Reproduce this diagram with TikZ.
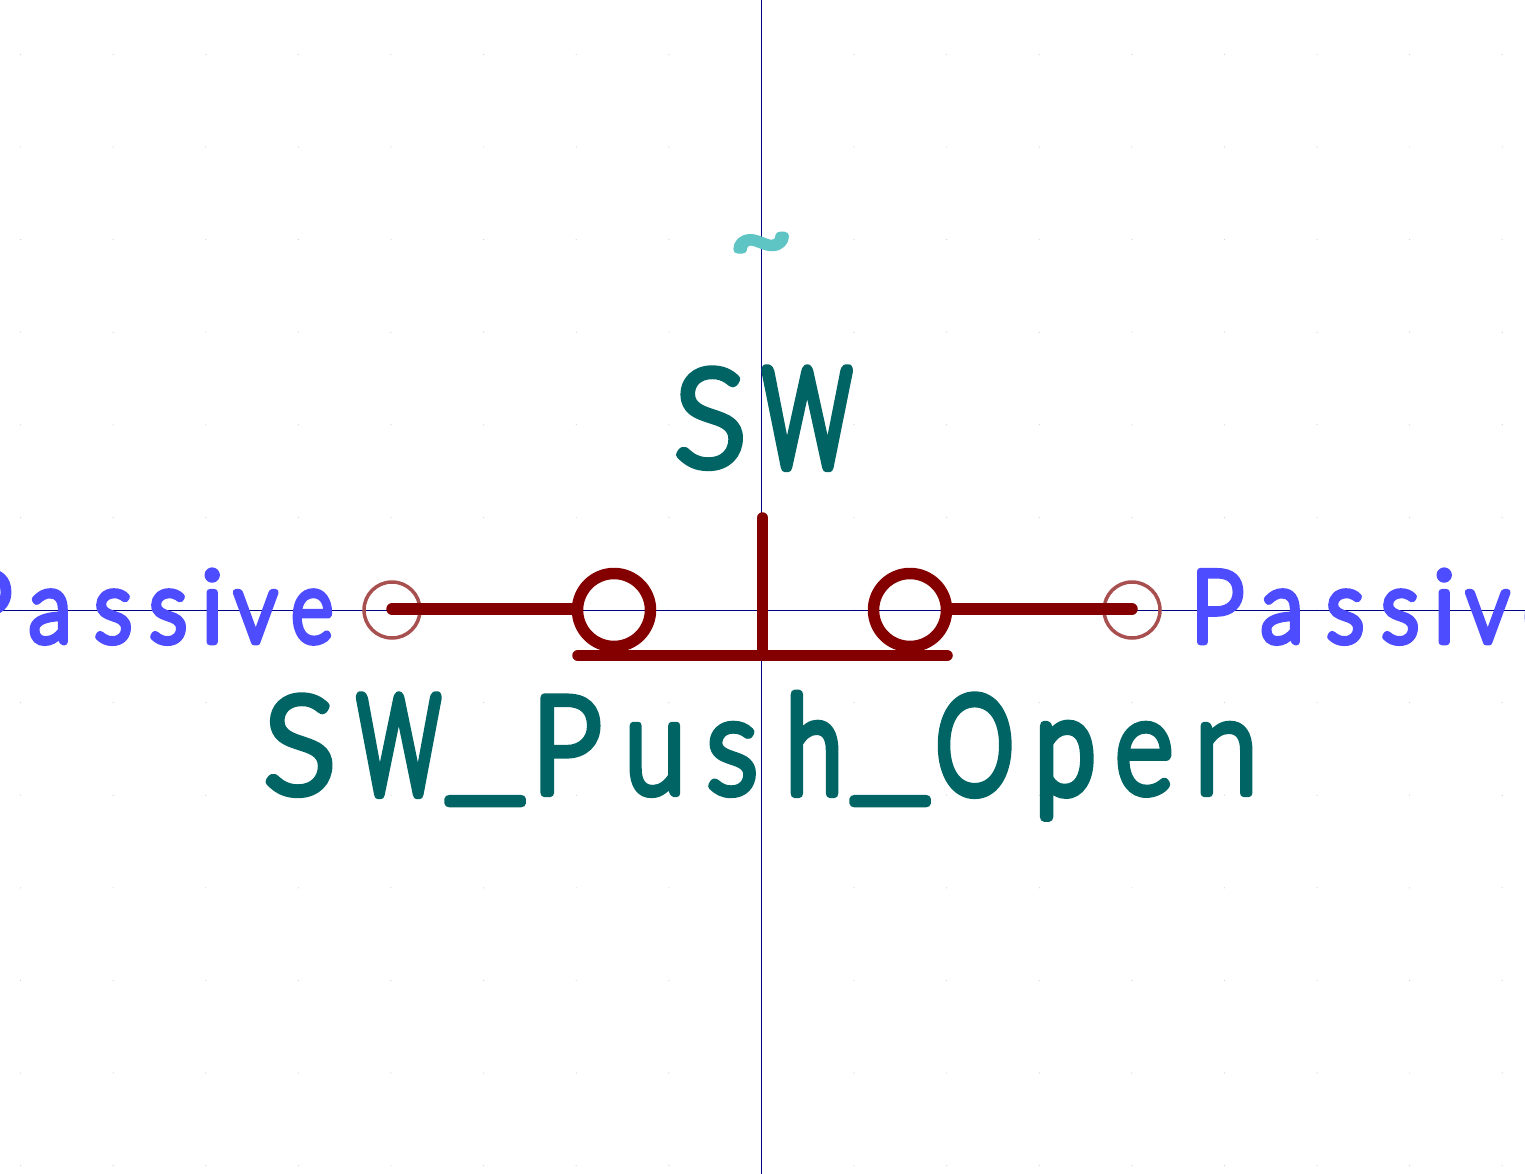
\documentclass[tikz,border=0pt]{standalone}
\usepackage{fontspec}
\usepackage{graphicx}
\usetikzlibrary{calc}
\setmainfont{Lato}
\newfontfamily\kifont[FakeBold=6]{Lato Light}
\newfontfamily\kipin[FakeBold=6.5]{Lato Light}
\newfontfamily\kitilde[FakeBold=9]{Lato Light}
\newfontfamily\kiw[FakeBold=9]{Lato Light}
\newfontfamily\kiwb[FakeBold=7.5]{Lato Light}
\newcommand{\lc}[3]{\makebox[#1pt][c]{\scalebox{#2}[1]{#3}}}
\newcommand{\usc}[1]{\makebox[#1pt][c]{\raisebox{8pt}{\scalebox{1.33}[1]{\_}}}}
\definecolor{kiteal}{HTML}{006464}
\definecolor{kiblue}{HTML}{4D4DFF}
\definecolor{kired}{HTML}{840000}
\definecolor{kipinc}{HTML}{A85050}
\definecolor{kicross}{HTML}{000084}
\definecolor{kicyan}{HTML}{5FC4C4}
\definecolor{kigrid}{HTML}{D0D0D0}
\tikzset{
  body/.style={draw=kired,line width=11.5pt,line cap=round},
  pinmark/.style={circle,draw=kipinc,line width=3.5pt,minimum size=56pt,inner sep=0pt},
  ref/.style={anchor=base west,inner sep=0pt,text=kiteal,font=\kifont\fontsize{135}{135}\selectfont},
  pinlabel/.style={anchor=base west,inner sep=0pt,text=kiblue,font=\kipin\fontsize{100}{100}\selectfont},
  cross/.style={draw=kicross,line width=1pt}
}
\newcommand{\passive}{\lc{44}{.93}{P}\lc{86}{.89}{a}\lc{40}{.9}{s}\lc{70}{.9}{s}\lc{18}{1}{i}\lc{69}{.87}{v}\lc{44}{.81}{e}}
\begin{document}
\begin{tikzpicture}[x=1pt,y=-1pt,line join=round]
\useasboundingbox (0,0) rectangle (1525,1174);
\clip (0,0) rectangle (1525,1174);
\foreach \i in {-4,...,12}{\foreach \j in {-6,...,6}{
  \fill[kigrid] ({391+92.6*\i},{610+92.6*\j}) circle (0.6pt);}}
\coordinate (vt) at (761.5,0); \coordinate (vb) at (761.5,1174);
\coordinate (hl) at (0,610.5); \coordinate (hr) at (1525,610.5);
\draw[cross] (vt) -- (vb);
\draw[cross] (hl) -- (hr);
\node[pinmark] (p1) at (392,610) {};
\node[pinmark] (p2) at (1132,610) {};
\coordinate (c1) at (614,610); \coordinate (c2) at (910,610);
\coordinate (e1) at (574,609); \coordinate (e2) at (950,609);
\draw[kired,line width=11.5pt] (c1) circle (36.5pt);
\draw[kired,line width=11.5pt] (c2) circle (36.5pt);
\draw[body] ($(p1.center)+(0,-1)$) -- (e1);
\draw[body] (e2) -- ($(p2.center)+(0,-1)$);
\coordinate (bl) at (578,655.5); \coordinate (br) at (947,655.5);
\draw[body] (bl) -- (br);
\coordinate (st) at (762.5,518);\coordinate (sb) at (762.5,655);
\draw[body] (st) -- (sb);
\node[anchor=base,inner sep=0pt,text=kicyan,font=\kitilde\fontsize{105}{105}\selectfont] (tilde) at (761,269) {\scalebox{1}[.85]{\~{}}};
\node[ref] (swname) at (677,466) {\lc{66}{1}{S}\lc{128}{.64}{\kiw W}};
\node[ref] (value) at (267,793) {\lc{65}{1}{S}\lc{138}{.6}{\hspace*{-8pt}\kiw W}\usc{30}\lc{139}{.9}{\hspace*{-7pt}P}\lc{32}{.83}{u}\lc{122}{.9}{s}\lc{42}{.76}{\kiwb h}\usc{110}\lc{59}{.73}{\kiwb O}\lc{122}{.81}{\kiwb p}\lc{36}{.83}{e}\lc{128}{.85}{n}};
\node[pinlabel] (lab1) at (-37,642) {\passive};
\node[pinlabel] (lab2) at (1195,642) {\passive};
\end{tikzpicture}
\end{document}
